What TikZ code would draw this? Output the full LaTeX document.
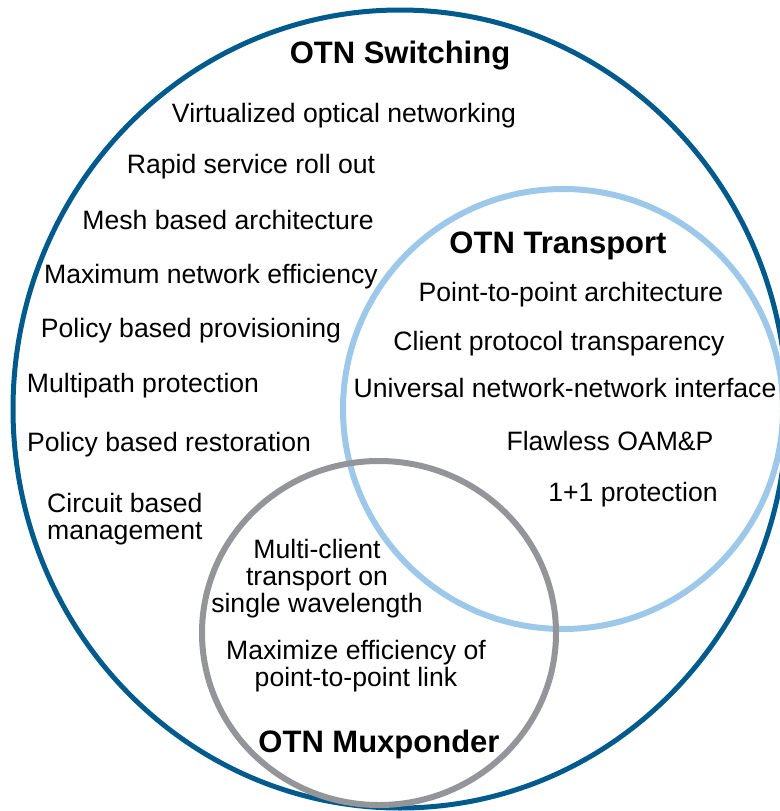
\documentclass[tikz,border=0pt]{standalone}
\usepackage{fontspec}
\setmainfont{Liberation Sans}
\usetikzlibrary{positioning}

\definecolor{switchblue}{RGB}{0,91,140}
\definecolor{transportblue}{RGB}{157,200,233}
\definecolor{muxgray}{RGB}{147,149,152}

\begin{document}
\begin{tikzpicture}[x=1pt,y=-1pt,
    feature/.style={font=\fontsize{26.6}{26.8}\selectfont, inner sep=0pt, anchor=base},
    heading/.style={font=\fontsize{31}{33}\selectfont\bfseries, inner sep=0pt, anchor=base}]

\useasboundingbox (0,0) rectangle (779,811);

% the three rings
\draw[switchblue, line width=5pt] (400,409) ellipse [x radius=387, y radius=399];
\draw[transportblue, line width=6pt] (563,409) circle (220);
\draw[muxgray, line width=6pt] (379,633) ellipse [x radius=177, y radius=172];

% OTN switching
\node[heading] (switching) at (400,63) {OTN Switching};
\node[feature] (virtual) at (344,122.5) {Virtualized optical networking};
\node[feature] (rapid) at (251,173.5) {Rapid service roll out};
\node[feature] (mesh) at (228,229.5) {Mesh based architecture};
\node[feature] (maxeff) at (211,283.5) {Maximum network efficiency};
\node[feature] (policyprov) at (191,337.5) {Policy based provisioning};
\node[feature] (multipath) at (143,392) {Multipath protection};
\node[feature] (policyrest) at (169,451.5) {Policy based restoration};
\node[feature, anchor=north west, align=left] (circuit) at (47,493) {Circuit based\\management};

% OTN transport
\node[heading] (transport) at (558,253) {OTN Transport};
\node[feature] (ptp) at (571,301.5) {Point-to-point architecture};
\node[feature] (client) at (559,350.5) {Client protocol transparency};
\node[feature] (unni) at (565,397.5) {Universal network-network interface};
\node[feature] (oamp) at (610,450.5) {Flawless OAM\&P};
\node[feature] (oneplus) at (633,501.5) {1+1 protection};

% OTN muxponder
\node[feature, anchor=north, align=center] (multiclient) at (317,539) {Multi-client\\transport on\\single wavelength};
\node[feature, anchor=north, align=center] (maxlink) at (356,640) {Maximize efficiency of\\point-to-point link};
\node[heading] (muxponder) at (379,752) {OTN Muxponder};

\end{tikzpicture}
\end{document}
